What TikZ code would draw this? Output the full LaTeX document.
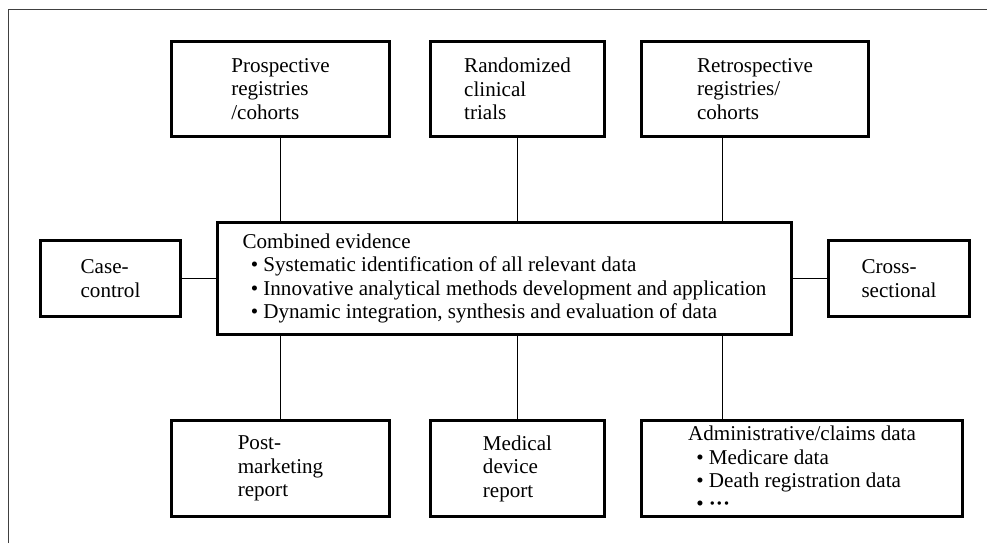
\documentclass[tikz,border=0pt]{standalone}
\usepackage{fontspec}
\setmainfont{Liberation Serif}
\usepackage{tikz}

\tikzset{
  box/.style={draw, line width=1.8pt, inner sep=0pt, align=left,
    font=\fontsize{18}{20}\selectfont},
  link/.style={line width=1pt}
}

\begin{document}
\begin{tikzpicture}[x=0.3mm,y=-0.3mm]
\useasboundingbox(0,0)rectangle(987,543);
\draw[line width=0.8pt,black!75](8,543)--(8,9.5)--(987,9.5);
% top row
\node[box,minimum width=218*0.3mm,minimum height=95*0.3mm](pro)at(280.5,89){Prospective\\registries\\/cohorts};
\node[box,minimum width=174*0.3mm,minimum height=95*0.3mm](rct)at(517.5,89){Randomized\\clinical\\trials};
\node[box,minimum width=227*0.3mm,minimum height=95*0.3mm](ret)at(755,89){Retrospective\\registries/\\cohorts};
% middle row
\node[box,minimum width=574*0.3mm,minimum height=112*0.3mm](cen)at(504.5,278.5){Combined evidence\\
\hspace*{7pt}\textbullet\ Systematic identification of all relevant data\\
\hspace*{7pt}\textbullet\ Innovative analytical methods development and application\\
\hspace*{7pt}\textbullet\ Dynamic integration, synthesis and evaluation of data};
\node[box,minimum width=140*0.3mm,minimum height=76*0.3mm](cc)at(110.5,278.5){Case-\\control};
\node[box,minimum width=141*0.3mm,minimum height=76*0.3mm](cs)at(899,278.5){Cross-\\sectional};
% bottom row
\node[box,minimum width=218*0.3mm,minimum height=96*0.3mm](pm)at(280.5,468.5){Post-\\marketing\\report};
\node[box,minimum width=174*0.3mm,minimum height=96*0.3mm](md)at(517.5,468.5){Medical\\device\\report};
\node[box,minimum width=321*0.3mm,minimum height=96*0.3mm](adm)at(802,468.5){Administrative/claims data\\
\hspace*{7pt}\textbullet\ Medicare data\\
\hspace*{7pt}\textbullet\ Death registration data\\
\hspace*{7pt}\textbullet\ \textbf{\textperiodcentered\textperiodcentered\textperiodcentered}};
\coordinate(rx)at(722.5,0);
% links
\draw[link](pro.south)--(pro.south|-cen.north);
\draw[link](rct.south)--(rct.south|-cen.north);
\draw[link](ret.south-|rx)--(cen.north-|rx);
\draw[link](cc.east)--(cen.west);
\draw[link](cen.east)--(cs.west);
\draw[link](pm.north)--(pm.north|-cen.south);
\draw[link](md.north)--(md.north|-cen.south);
\draw[link](adm.north-|rx)--(cen.south-|rx);
\end{tikzpicture}
\end{document}
